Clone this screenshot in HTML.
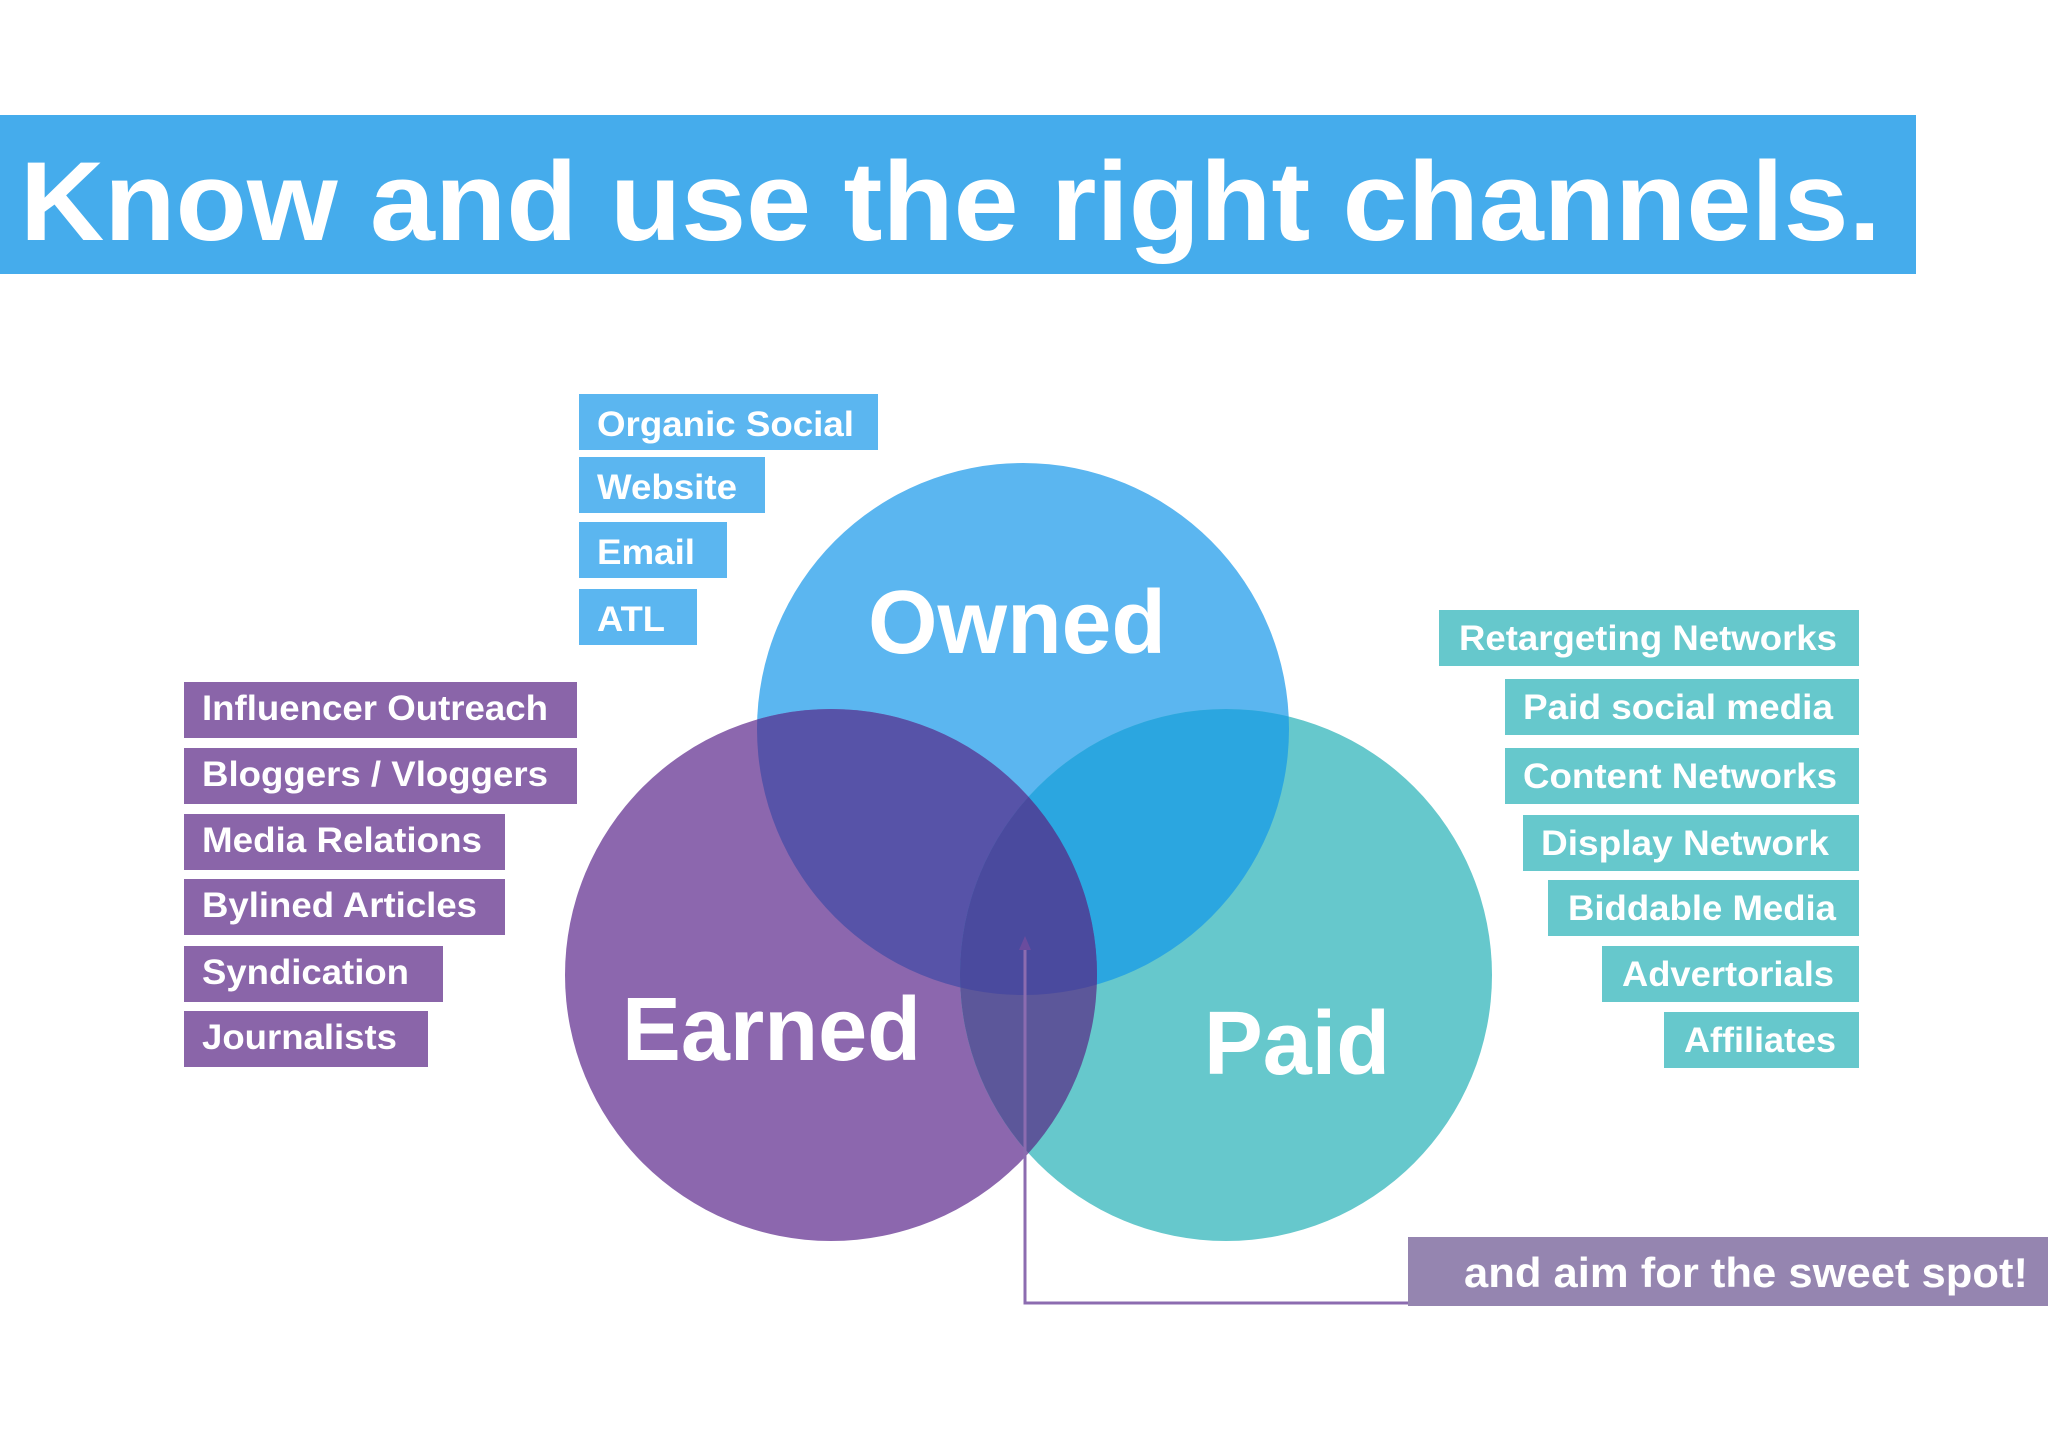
<!DOCTYPE html>
<html><head><meta charset="utf-8"><style>
html,body{margin:0;padding:0;background:#fff;}
svg{display:block;}
text{font-family:"Liberation Sans",Arial,sans-serif;font-weight:bold;fill:#fff;}
</style></head><body>
<svg width="2048" height="1449" viewBox="0 0 2048 1449" xmlns="http://www.w3.org/2000/svg">
<defs>
<clipPath id="cO"><circle cx="1023" cy="729" r="266"/></clipPath>
<clipPath id="cE"><circle cx="831" cy="975" r="266"/></clipPath>
<clipPath id="cP"><circle cx="1226" cy="975" r="266"/></clipPath>
</defs>
<rect width="2048" height="1449" fill="#fff"/>
<rect x="0" y="115" width="1916" height="159" fill="#45acec"/>
<text x="20" y="240" font-size="112" textLength="1861" lengthAdjust="spacingAndGlyphs">Know and use the right channels.</text>

<circle cx="1023" cy="729" r="266" fill="#5bb6f0"/>
<circle cx="831" cy="975" r="266" fill="#8c67ae"/>
<circle cx="1226" cy="975" r="266" fill="#66c8cc"/>
<g clip-path="url(#cO)"><circle cx="831" cy="975" r="266" fill="#5753a8"/><circle cx="1226" cy="975" r="266" fill="#2ba6e0"/></g>
<g clip-path="url(#cE)"><circle cx="1226" cy="975" r="266" fill="#5c579a"/></g>
<g clip-path="url(#cE)"><g clip-path="url(#cO)"><circle cx="1226" cy="975" r="266" fill="#4a4a9e"/></g></g>

<text x="868" y="653" font-size="90" textLength="298" lengthAdjust="spacingAndGlyphs">Owned</text>
<text x="622" y="1060" font-size="90" textLength="299" lengthAdjust="spacingAndGlyphs">Earned</text>
<text x="1204" y="1074" font-size="90" textLength="186" lengthAdjust="spacingAndGlyphs">Paid</text>

<g fill="#5bb6f0">
<rect x="579" y="394" width="299" height="56"/>
<rect x="579" y="457" width="186" height="56"/>
<rect x="579" y="522" width="148" height="56"/>
<rect x="579" y="589" width="118" height="56"/>
</g>
<g font-size="35">
<text x="597" y="436" textLength="257" lengthAdjust="spacingAndGlyphs">Organic Social</text>
<text x="597" y="499" textLength="140" lengthAdjust="spacingAndGlyphs">Website</text>
<text x="597" y="564" textLength="98" lengthAdjust="spacingAndGlyphs">Email</text>
<text x="597" y="631" textLength="68" lengthAdjust="spacingAndGlyphs">ATL</text>
</g>

<g fill="#8a65a9">
<rect x="184" y="682" width="393" height="56"/>
<rect x="184" y="748" width="393" height="56"/>
<rect x="184" y="814" width="321" height="56"/>
<rect x="184" y="879" width="321" height="56"/>
<rect x="184" y="946" width="259" height="56"/>
<rect x="184" y="1011" width="244" height="56"/>
</g>
<g font-size="35">
<text x="202" y="720" textLength="346" lengthAdjust="spacingAndGlyphs">Influencer Outreach</text>
<text x="202" y="786" textLength="346" lengthAdjust="spacingAndGlyphs">Bloggers / Vloggers</text>
<text x="202" y="852" textLength="280" lengthAdjust="spacingAndGlyphs">Media Relations</text>
<text x="202" y="917" textLength="275" lengthAdjust="spacingAndGlyphs">Bylined Articles</text>
<text x="202" y="984" textLength="207" lengthAdjust="spacingAndGlyphs">Syndication</text>
<text x="202" y="1049" textLength="195" lengthAdjust="spacingAndGlyphs">Journalists</text>
</g>

<g fill="#66c8cc">
<rect x="1439" y="610" width="420" height="56"/>
<rect x="1505" y="679" width="354" height="56"/>
<rect x="1505" y="748" width="354" height="56"/>
<rect x="1523" y="815" width="336" height="56"/>
<rect x="1548" y="880" width="311" height="56"/>
<rect x="1602" y="946" width="257" height="56"/>
<rect x="1664" y="1012" width="195" height="56"/>
</g>
<g font-size="35" text-anchor="end">
<text x="1837" y="650" textLength="378" lengthAdjust="spacingAndGlyphs">Retargeting Networks</text>
<text x="1833" y="719" textLength="310" lengthAdjust="spacingAndGlyphs">Paid social media</text>
<text x="1837" y="788" textLength="314" lengthAdjust="spacingAndGlyphs">Content Networks</text>
<text x="1829" y="855" textLength="288" lengthAdjust="spacingAndGlyphs">Display Network</text>
<text x="1836" y="920" textLength="268" lengthAdjust="spacingAndGlyphs">Biddable Media</text>
<text x="1834" y="986" textLength="212" lengthAdjust="spacingAndGlyphs">Advertorials</text>
<text x="1836" y="1052" textLength="152" lengthAdjust="spacingAndGlyphs">Affiliates</text>
</g>

<rect x="1408" y="1237" width="640" height="69" fill="#9585b0"/>
<text x="1464" y="1287" font-size="42" textLength="564" lengthAdjust="spacingAndGlyphs">and aim for the sweet spot!</text>

<polyline points="1408,1303 1025,1303 1025,948" fill="none" stroke="#8c6cb0" stroke-width="3"/>
<polygon points="1025,936 1019,950 1031,950" fill="#6a4c9e"/>
</svg>
</body></html>
